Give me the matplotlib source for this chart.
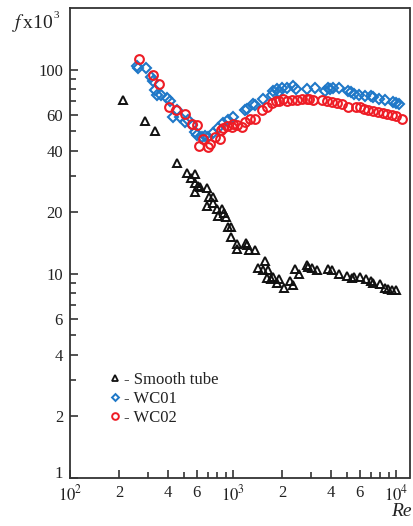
import matplotlib
matplotlib.use("Agg")
import matplotlib.pyplot as plt
from matplotlib.ticker import FixedLocator, FixedFormatter, NullFormatter
from matplotlib.lines import Line2D

plt.rcParams['font.family'] = ['Liberation Serif', 'DejaVu Serif']
plt.rcParams['mathtext.fontset'] = 'stix'

# Smooth tube
re_smooth = [211, 288, 332, 452, 525, 584, 550, 584, 612, 584, 628, 690, 716, 750, 695, 757,
             801, 853, 813, 881, 906, 936, 972, 972, 1055, 1064, 1204, 1225, 1260, 1364,
             1430, 1570, 1534, 1648, 1610, 1704, 1767, 1853, 1922, 2055, 2240, 2325, 2400,
             2551, 2831, 2900, 3040, 3260, 3843, 4030, 4485, 4978, 5342, 5520, 6010, 6550,
             6995, 7260, 7980, 8570, 8980, 9420, 9950]
f_smooth = [71, 56, 50.2, 34.8, 31.3, 30.7, 29.4, 27.7, 26.9, 25.2, 26.7, 26.4, 23.7, 23.7,
            21.5, 22.1, 20.7, 20.7, 19.2, 19.8, 18.9, 17.0, 17.0, 15.2, 14.0, 13.2, 14.1,
            13.8, 13.0, 13.0, 10.7, 11.5, 10.4, 10.4, 9.49, 9.4, 9.6, 9.03, 9.4, 8.48, 9.24,
            8.80, 10.6, 10.0, 11.0, 10.8, 10.7, 10.4, 10.5, 10.4, 10.0, 9.74, 9.49, 9.65,
            9.6, 9.4, 9.24, 8.97, 8.91, 8.54, 8.4, 8.3, 8.3]

# WC01
re_wc01 = [256, 260, 293, 313, 322, 332, 343, 362, 395, 411, 430, 452, 473, 508, 528, 558,
           584, 598, 643, 674, 705, 757, 813, 873, 936, 1004, 1186, 1214, 1333, 1364, 1534,
           1727, 1750, 1853, 1922, 1990, 2137, 2345, 2434, 2831, 3185, 3665, 3843, 3950,
           4120, 4485, 5090, 5270, 5520, 5960, 6460, 6995, 7260, 7910, 8570, 9550, 10000,
           10480]
f_wc01 = [104, 101.6, 101.6, 91.8, 88.3, 79.6, 75.2, 74.8, 72.9, 70.3, 58.8, 63.5, 58.8,
          55.6, 56.7, 53.6, 49.7, 47.9, 46.9, 47.2, 46.6, 48.8, 51.6, 54.6, 56.7, 58.4,
          63.5, 64.4, 67.9, 67.0, 71.6, 75.2, 78.9, 80.2, 77.4, 81.0, 81.8, 82.9, 80.2,
          80.2, 81.8, 78.9, 81.8, 80.2, 81.0, 81.0, 78.9, 77.4, 75.7, 75.2, 74.5, 74.1,
          73.6, 71.6, 71.0, 69.7, 68.5, 67.9]

# WC02
re_wc02 = [266, 322, 353, 406, 447, 508, 558, 598, 621, 652, 705, 722, 776, 832, 841, 873,
           914, 982, 1004, 1064, 1130, 1186, 1270, 1364, 1500, 1610, 1727, 1835, 1922, 2018,
           2155, 2290, 2480, 2637, 2831, 2920, 3080, 3500, 3760, 4030, 4327, 4645, 5090,
           5690, 6010, 6370, 6765, 7260, 7780, 8280, 8840, 9420, 10000, 10840]
f_wc02 = [113, 94.2, 85.1, 65.9, 63.5, 60.6, 54.2, 53.6, 42.4, 45.7, 41.7, 43.3, 46.6,
          45.6, 50.6, 51.6, 52.8, 52.4, 54.2, 53.6, 52.1, 55.6, 57.1, 57.6, 63.5, 65.4,
          68.9, 70.4, 70.4, 71.8, 70.4, 71.0, 71.0, 71.6, 71.6, 71.6, 71.0, 71.0, 70.4,
          69.7, 68.9, 67.9, 65.9, 65.9, 65.4, 64.4, 63.5, 62.8, 62.1, 61.4, 60.6, 60.0,
          59.4, 57.6]

series_labels = ['- Smooth tube', '- WC01', '- WC02']

x_major = [100, 200, 400, 600, 1000, 2000, 4000, 6000, 10000]
x_major_labels = [r'$10^{2}$', '2', '4', '6', r'$10^{3}$', '2', '4', '6', r'$10^{4}$']
x_minor = [300, 500, 700, 800, 900, 3000, 5000, 7000, 8000, 9000]
y_major = [1, 2, 4, 6, 10, 20, 40, 60, 100]
y_major_labels = ['1', '2', '4', '6', '10', '20', '40', '60', '100']
y_minor = [3, 5, 7, 8, 9, 30, 50, 70, 80, 90]

BLACK = '#111111'
BLUE = '#1f78c8'
RED = '#ee1c25'

W, H = 413, 526
fig = plt.figure(figsize=(W / 100, H / 100), dpi=100)
ax = fig.add_axes([70 / W, (H - 477.7) / H, (409.5 - 70) / W, (477.7 - 8.3) / H])

ax.plot(re_smooth, f_smooth, linestyle='none', marker='^', ms=6.3, mfc='none',
        mec=BLACK, mew=1.4)
ax.plot(re_wc01, f_wc01, linestyle='none', marker='D', ms=4.8, mfc='none',
        mec=BLUE, mew=1.5)
ax.plot(re_wc02, f_wc02, linestyle='none', marker='o', ms=6.3, mfc='none',
        mec=RED, mew=1.5)

ax.set_xscale('log')
ax.set_yscale('log')
ax.set_xlim(100, 12100)
ax.set_ylim(1, 200)

ax.xaxis.set_major_locator(FixedLocator(x_major))
ax.xaxis.set_major_formatter(FixedFormatter(x_major_labels))
ax.xaxis.set_minor_locator(FixedLocator(x_minor))
ax.xaxis.set_minor_formatter(NullFormatter())
ax.yaxis.set_major_locator(FixedLocator(y_major))
ax.yaxis.set_major_formatter(FixedFormatter(y_major_labels))
ax.yaxis.set_minor_locator(FixedLocator(y_minor))
ax.yaxis.set_minor_formatter(NullFormatter())

spine_c = '#333333'
for s in ax.spines.values():
    s.set_color(spine_c)
    s.set_linewidth(1.3)
ax.tick_params(which='major', direction='in', length=6, width=1.2, color=spine_c,
               labelsize=12, pad=5, top=False, right=False)
ax.tick_params(which='minor', direction='in', length=4.5, width=1.2, color=spine_c,
               top=False, right=False)

fig.canvas.draw()
for lbl in ax.get_xticklabels() + ax.get_yticklabels():
    lbl.set_color('#222222')
ylbls = ax.yaxis.get_majorticklabels()
ylbls[0].set_verticalalignment('baseline')

handles = [
    Line2D([], [], linestyle='none', marker='^', ms=4.5, mfc='none', mec=BLACK, mew=1.3),
    Line2D([], [], linestyle='none', marker='D', ms=3.5, mfc='none', mec=BLUE, mew=1.4),
    Line2D([], [], linestyle='none', marker='o', ms=4.8, mfc='none', mec=RED, mew=1.4),
]
leg = ax.legend(handles, series_labels, loc='upper left', bbox_to_anchor=(0.117, 0.226),
                frameon=False, handlelength=0.6, handletextpad=0.25, labelspacing=0.2,
                borderpad=0, borderaxespad=0, fontsize=12)
for t in leg.get_texts():
    t.set_color('#222222')

fig.text(12 / W, 1 - 23 / H, r'$f\,$x10', fontsize=14, ha='left', va='center',
         color='#222222')
fig.text(53.5 / W, 1 - 15 / H, '3', fontsize=8, ha='left', va='center',
         color='#222222')
fig.text(391 / W, 1 - 512 / H, 'Re', fontsize=14, style='italic', ha='left',
         va='center', color='#222222')

fig.savefig('out.png', dpi=100)
